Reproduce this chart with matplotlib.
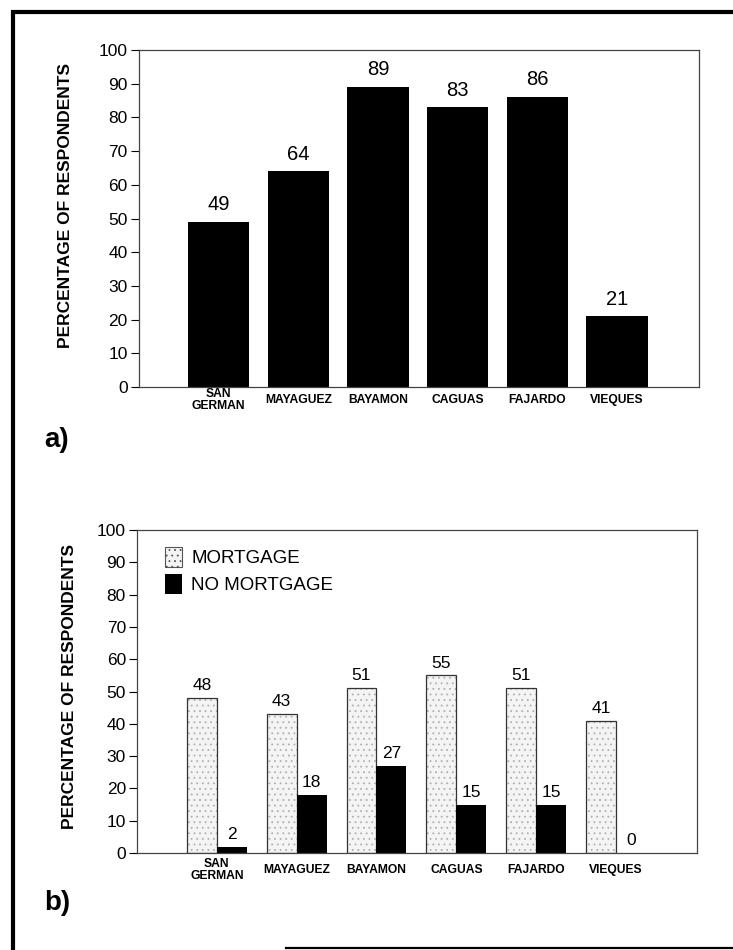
import matplotlib.pyplot as plt
from matplotlib.patches import Rectangle, Patch
from matplotlib.lines import Line2D
import numpy as np

plt.rcParams['font.family'] = ['Liberation Sans', 'DejaVu Sans']
plt.rcParams['hatch.linewidth'] = 0.6

towns = ['SAN\nGERMAN', 'MAYAGUEZ', 'BAYAMON', 'CAGUAS', 'FAJARDO', 'VIEQUES']
pct_all = [49, 64, 89, 83, 86, 21]
mortgage = [48, 43, 51, 55, 51, 41]
no_mortgage = [2, 18, 27, 15, 15, 0]
yticks = list(range(0, 101, 10))

fig = plt.figure(figsize=(7.33, 9.5), dpi=100)

# scanned page frame: left and top edges, bottom edge only partly
fig.patches.append(Rectangle((0.0177, -0.05), 1.1, 1.037, transform=fig.transFigure,
                             fill=False, edgecolor='black', linewidth=3))
fig.lines.append(Line2D([0.39, 1.0], [0.0025, 0.0025], transform=fig.transFigure,
                        color='black', linewidth=1.6))


def style_axis(ax, xpad):
    ax.set_ylim(0, 100)
    ax.set_yticks(yticks)
    ax.tick_params(axis='y', direction='out', length=6, width=0.8, labelsize=12.5, pad=2)
    ax.tick_params(axis='x', length=0, labelsize=8.7, pad=xpad)
    for lab in ax.get_xticklabels():
        lab.set_fontweight('bold')
        lab.set_verticalalignment('center')
        lab.set_linespacing(1.0)
    for s in ax.spines.values():
        s.set_linewidth(0.9)
        s.set_color('#444444')


# a) all respondents
ax1 = fig.add_axes([0.1896, 0.5926, 0.764, 0.3547])
x = np.arange(len(towns))
ax1.bar(x, pct_all, width=0.77, color='black')
for xi, v in zip(x, pct_all):
    ax1.text(xi, v + 2.3, str(v), ha='center', va='bottom', fontsize=14.5)
ax1.set_xlim(-1.0, 6.03)
ax1.set_xticks(x)
ax1.set_xticklabels(towns)
style_axis(ax1, 9.5)
ax1.set_ylabel('PERCENTAGE OF RESPONDENTS', fontsize=12.5, fontweight='bold')
ax1.yaxis.set_label_coords(-0.118, 0.54)
fig.text(0.061, 0.537, 'a)', fontsize=20, fontweight='bold', ha='left', va='center')

# b) mortgage vs no mortgage
ax2 = fig.add_axes([0.1869, 0.1021, 0.764, 0.34])
w = 0.375
ax2.bar(x - w / 2, mortgage, width=w, color='#f4f4f4', edgecolor='#b0b0b0',
        hatch='...', linewidth=0)
ax2.bar(x - w / 2, mortgage, width=w, fill=False, edgecolor='#333333', linewidth=0.9)
ax2.bar(x + w / 2, no_mortgage, width=w, color='black')
for xi, v in zip(x, mortgage):
    ax2.text(xi - w / 2, v + 1.5, str(v), ha='center', va='bottom', fontsize=12.5)
for xi, v in zip(x, no_mortgage):
    ax2.text(xi + w / 2, v + 1.5, str(v), ha='center', va='bottom', fontsize=12.5)
ax2.set_xlim(-1.0, 6.015)
ax2.set_xticks(x)
ax2.set_xticklabels(towns)
style_axis(ax2, 12)
ax2.set_ylabel('PERCENTAGE OF RESPONDENTS', fontsize=12.5, fontweight='bold')
ax2.yaxis.set_label_coords(-0.107, 0.514)
handles = [Patch(facecolor='#f4f4f4', edgecolor='#555555', hatch='...', linewidth=0.8,
                 label='MORTGAGE'),
           Patch(facecolor='black', label='NO MORTGAGE')]
ax2.legend(handles=handles, loc='upper left', frameon=False, fontsize=13.5,
           handlelength=0.9, handleheight=1.23, handletextpad=0.5, labelspacing=0.37,
           borderpad=0, borderaxespad=0, bbox_to_anchor=(0.05, 0.947))
fig.text(0.061, 0.049, 'b)', fontsize=20, fontweight='bold', ha='left', va='center')

fig.savefig('out.png', dpi=100)
